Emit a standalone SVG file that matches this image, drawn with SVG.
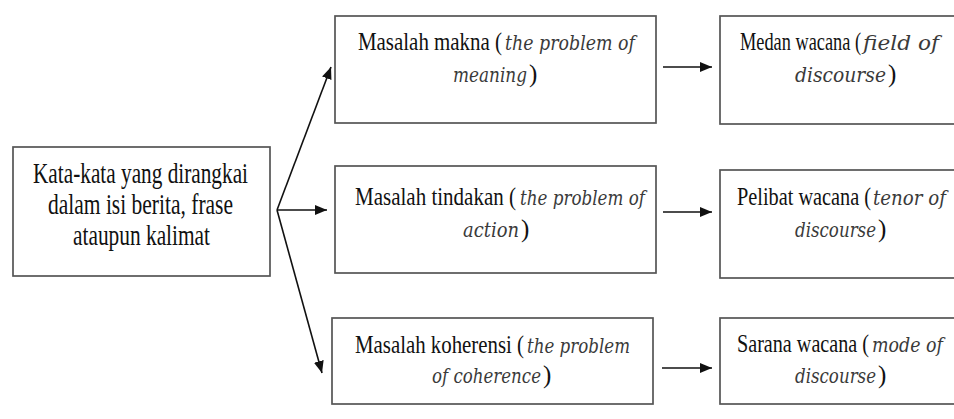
<svg xmlns="http://www.w3.org/2000/svg" width="954" height="419" viewBox="0 0 954 419">
<style>
.box{fill:#fff;stroke:#555;stroke-width:1.7}
.t{font-family:"Liberation Serif","Times New Roman",serif;fill:#111;font-size:25px}
.l{font-size:30px}
.i{font-family:"DejaVu Serif","Liberation Serif",serif;font-style:italic;fill:#3a3a3a;font-size:21px}
.c{fill:none;stroke:#111;stroke-width:1.6}
</style>
<defs>
<marker id="ah" markerUnits="userSpaceOnUse" markerWidth="13" markerHeight="11" refX="12" refY="5" orient="auto">
<path d="M0,0 L12,5 L0,10 z" fill="#111"/>
</marker>
</defs>
<rect width="954" height="419" fill="#fff"/>
<g id="connectors">
<line class="c" x1="277" y1="210" x2="331" y2="67" marker-end="url(#ah)"/>
<line class="c" x1="277" y1="210" x2="327" y2="210" marker-end="url(#ah)"/>
<line class="c" x1="277" y1="210" x2="322" y2="373" marker-end="url(#ah)"/>
<line class="c" x1="663" y1="67" x2="712" y2="67" marker-end="url(#ah)"/>
<line class="c" x1="663" y1="212" x2="712" y2="212" marker-end="url(#ah)"/>
<line class="c" x1="662" y1="368" x2="712" y2="368" marker-end="url(#ah)"/>
</g>
<g id="source">
<rect class="box" x="13" y="147" width="257" height="129"/>
<text class="t l" x="33" y="183" textLength="215" lengthAdjust="spacingAndGlyphs">Kata-kata yang dirangkai</text>
<text class="t l" x="48" y="214" textLength="185" lengthAdjust="spacingAndGlyphs">dalam isi berita, frase</text>
<text class="t l" x="73" y="245" textLength="137" lengthAdjust="spacingAndGlyphs">ataupun kalimat</text>
</g>
<g id="makna">
<rect class="box" x="335" y="16" width="321" height="107"/>
<text class="t" y="50"><tspan x="358" textLength="144" lengthAdjust="spacingAndGlyphs">Masalah makna (</tspan><tspan class="i" x="505" textLength="130" lengthAdjust="spacingAndGlyphs">the problem of</tspan></text>
<text class="t" y="82"><tspan class="i" x="453" textLength="74" lengthAdjust="spacingAndGlyphs">meaning</tspan><tspan x="529">)</tspan></text>
</g>
<g id="tindakan">
<rect class="box" x="335" y="166" width="321" height="107"/>
<text class="t" y="205"><tspan x="355" textLength="161" lengthAdjust="spacingAndGlyphs">Masalah tindakan (</tspan><tspan class="i" x="520" textLength="125" lengthAdjust="spacingAndGlyphs">the problem of</tspan></text>
<text class="t" y="237"><tspan class="i" x="463" textLength="56" lengthAdjust="spacingAndGlyphs">action</tspan><tspan x="521">)</tspan></text>
</g>
<g id="koherensi">
<rect class="box" x="332" y="318" width="321" height="86"/>
<text class="t" y="353"><tspan x="355" textLength="169" lengthAdjust="spacingAndGlyphs">Masalah koherensi (</tspan><tspan class="i" x="527" textLength="103" lengthAdjust="spacingAndGlyphs">the problem</tspan></text>
<text class="t" y="383"><tspan class="i" x="432" textLength="109" lengthAdjust="spacingAndGlyphs">of coherence</tspan><tspan x="543">)</tspan></text>
</g>
<g id="medan">
<rect class="box" x="720" y="16" width="250" height="108"/>
<text class="t" y="50"><tspan x="740" textLength="121" lengthAdjust="spacingAndGlyphs">Medan wacana (</tspan><tspan class="i" x="863" textLength="76" lengthAdjust="spacingAndGlyphs">field of</tspan></text>
<text class="t" y="82"><tspan class="i" x="795" textLength="91" lengthAdjust="spacingAndGlyphs">discourse</tspan><tspan x="888">)</tspan></text>
</g>
<g id="pelibat">
<rect class="box" x="720" y="170" width="250" height="108"/>
<text class="t" y="205"><tspan x="737" textLength="134" lengthAdjust="spacingAndGlyphs">Pelibat wacana (</tspan><tspan class="i" x="873" textLength="73" lengthAdjust="spacingAndGlyphs">tenor of</tspan></text>
<text class="t" y="237"><tspan class="i" x="795" textLength="81" lengthAdjust="spacingAndGlyphs">discourse</tspan><tspan x="878">)</tspan></text>
</g>
<g id="sarana">
<rect class="box" x="720" y="318" width="250" height="86"/>
<text class="t" y="352"><tspan x="737" textLength="132" lengthAdjust="spacingAndGlyphs">Sarana wacana (</tspan><tspan class="i" x="872" textLength="71" lengthAdjust="spacingAndGlyphs">mode of</tspan></text>
<text class="t" y="383"><tspan class="i" x="795" textLength="81" lengthAdjust="spacingAndGlyphs">discourse</tspan><tspan x="878">)</tspan></text>
</g>
</svg>
